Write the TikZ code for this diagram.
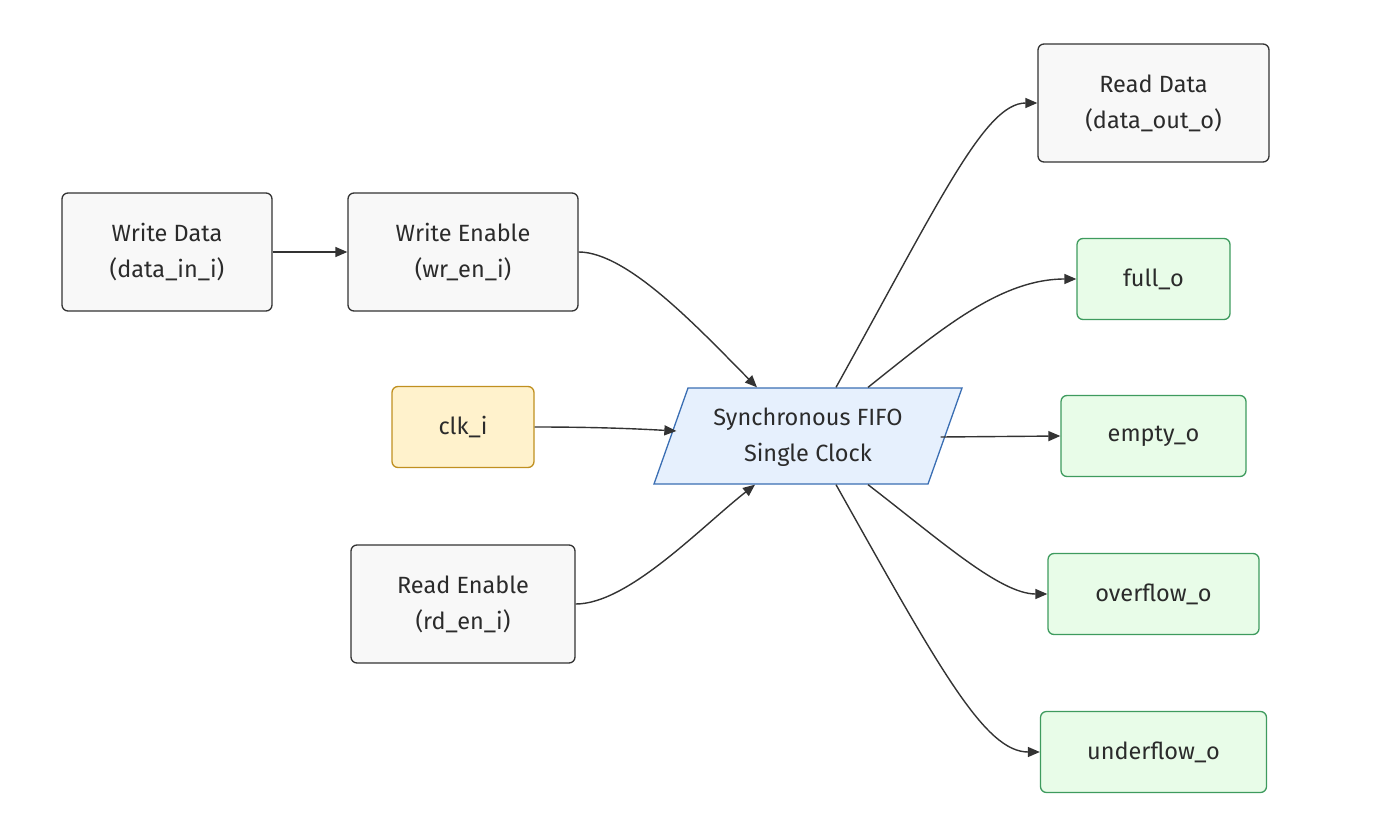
\documentclass[tikz,border=0pt]{standalone}
\usepackage{fontspec}
\setmainfont{Fira Sans}
\usetikzlibrary{arrows.meta}
\definecolor{txt}{HTML}{2B2B2B}
\definecolor{grayfill}{HTML}{F8F8F8}
\definecolor{graydraw}{HTML}{333333}
\definecolor{clkfill}{HTML}{FFF2CC}
\definecolor{clkdraw}{HTML}{C09020}
\definecolor{outfill}{HTML}{E8FCE8}
\definecolor{outdraw}{HTML}{3E9B5E}
\definecolor{fifofill}{HTML}{E6F0FD}
\definecolor{fifodraw}{HTML}{3A6EB3}
\definecolor{linec}{HTML}{333333}
\tikzset{
  box/.style={rounded corners=6pt, line width=1.3pt, align=center, text=txt,
    font=\fontsize{23.5}{36}\selectfont, inner sep=0pt},
  inbox/.style={box, draw=graydraw, fill=grayfill},
  clkbox/.style={box, draw=clkdraw, fill=clkfill},
  outbox/.style={box, draw=outdraw, fill=outfill},
  conn/.style={draw=linec, line width=1.4pt, -{Triangle[length=12pt,width=10pt]}},
}
\begin{document}
\begin{tikzpicture}[x=1pt,y=-1pt]
\useasboundingbox (0,0) rectangle (1374,835);
% input nodes
\node[inbox, minimum width=210pt, minimum height=118pt] (wd) at (167,252) {Write Data\\(data\_in\_i)};
\node[inbox, minimum width=230pt, minimum height=118pt] (we) at (463,252) {Write Enable\\(wr\_en\_i)};
\node[clkbox, minimum width=142pt, minimum height=81pt] (clk) at (463,427) {clk\_i};
\node[inbox, minimum width=224pt, minimum height=118pt] (re) at (463,604) {Read Enable\\(rd\_en\_i)};
% fifo parallelogram
\filldraw[fill=fifofill, draw=fifodraw, line width=1.3pt] (688,388) -- (962,388) -- (928,484) -- (654,484) -- cycle;
\node[box, minimum width=274pt, minimum height=96pt] (fifo) at (808,437) {Synchronous FIFO\\Single Clock};
% outputs
\node[inbox, minimum width=231pt, minimum height=118pt] (rdd) at (1153.5,103) {Read Data\\(data\_out\_o)};
\node[outbox, minimum width=153pt, minimum height=81pt] (full) at (1153.5,279) {full\_o};
\node[outbox, minimum width=185pt, minimum height=81pt] (empty) at (1153.5,436) {empty\_o};
\node[outbox, minimum width=211pt, minimum height=81pt] (ovf) at (1153.5,594) {overflow\_o};
\node[outbox, minimum width=226pt, minimum height=81pt] (unf) at (1153.5,752) {underflow\_o};
% connectors
\draw[conn] (wd.east) -- (we.west);
\draw[conn] (we.east) .. controls (628,252) and (700,330) .. ([xshift=-51pt,yshift=1pt]fifo.north);
\draw[conn] (clk.east) .. controls (600,427) and (640,429) .. ([xshift=6pt,yshift=6pt]fifo.west);
\draw[conn] (re.east) .. controls (628,604) and (700,528) .. ([xshift=-53pt,yshift=1pt]fifo.south);
\draw[conn] ([xshift=28pt,yshift=1pt]fifo.north) .. controls (940,200) and (985,103) .. (rdd.west);
\draw[conn] ([xshift=60pt,yshift=1pt]fifo.north) .. controls (940,330) and (1000,279) .. (full.west);
\draw[conn] ([xshift=-5pt]fifo.east) -- (empty.west);
\draw[conn] ([xshift=60pt,yshift=1pt]fifo.south) .. controls (940,540) and (1000,594) .. (ovf.west);
\draw[conn] ([xshift=28pt,yshift=1pt]fifo.south) .. controls (940,670) and (985,752) .. (unf.west);
\end{tikzpicture}
\end{document}
